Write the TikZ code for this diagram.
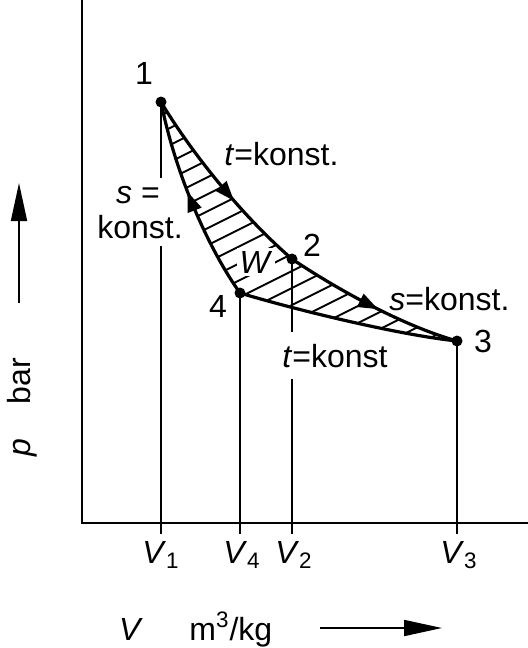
\documentclass[tikz,border=0pt]{standalone}
\usepackage{fontspec}
\setmainfont{Liberation Sans}
\usetikzlibrary{arrows.meta,positioning,calc,decorations.markings}

\begin{document}
\begin{tikzpicture}[x=0.5pt, y=-0.5pt,
  every node/.style={font=\fontsize{16}{19}\selectfont, inner sep=1pt},
  axis/.style={line width=1.3pt},
  curve/.style={line width=1.6pt, line join=round},
  guide/.style={line width=0.8pt},
  hatch/.style={line width=0.9pt},
  dot/.style={circle, fill, inner sep=0pt, minimum size=5.5pt},
  lbl/.style={fill=white},
  flow/.style={postaction={decorate}, decoration={markings, mark=at position #1 with {\arrow{Triangle[length=10pt,width=7pt]}}}},
  big/.style={-{Triangle[length=19pt,width=8pt]}, line width=0.9pt},
]
  \useasboundingbox (0,0) rectangle (528,648);

  % Axes
  \coordinate (O) at (82,523);
  \coordinate (Ytop) at (82,0);
  \coordinate (Xend) at (528,523);
  \draw[axis] (Ytop) -- (O) -- (Xend);

  % State points
  \coordinate (P1) at (161,102);
  \coordinate (P2) at (292,259);
  \coordinate (P3) at (457,341);
  \coordinate (P4) at (240,293);

  % Volume marks
  \coordinate (T1) at (161,534);
  \coordinate (T2) at (292,534);
  \coordinate (T3) at (457,534);
  \coordinate (T4) at (240,534);
  \draw[guide] (P1) -- (T1);
  \draw[guide] (P2) -- (T2);
  \draw[guide] (P3) -- (T3);
  \draw[guide] (P4) -- (T4);

  % Labels that cut the guides
  \node[lbl, anchor=base, inner ysep=4pt] (sk) at (138,203) {\textit{s} =};
  \node[lbl, anchor=base, inner ysep=4pt] (kk) at (140,238) {konst.};
  \node[lbl, anchor=base west, inner ysep=6pt] (tl) at (280,367) {\textit{t}=konst};

  % Hatched area
  \begin{scope}
    \clip (P1) .. controls (191,152) and (242,216) .. (P2)
      .. controls (332,286) and (400,325) .. (P3)
      .. controls (400,335) and (300,311) .. (P4)
      .. controls (210,251) and (176,177) .. (P1) -- cycle;
    \foreach \c in {196,213,...,560}
      \draw[hatch] (140,{\c-70}) -- (480,{\c-240});
  \end{scope}

  % Cycle
  \draw[curve, flow=0.6] (P1) .. controls (191,152) and (242,216) .. (P2);
  \draw[curve, flow=0.54] (P2) .. controls (332,286) and (400,325) .. (P3);
  \draw[curve] (P3) .. controls (400,335) and (300,311) .. (P4);
  \draw[curve, flow=0.55] (P4) .. controls (210,251) and (176,177) .. (P1);

  \foreach \p in {P1,P2,P3,P4}
    \node[dot] at (\p) {};

  \node[lbl, inner sep=1.5pt] (w) at (256,262) {\textit{W}};
  \node (n1) at (144,73) {1};
  \node (n2) at (312,245) {2};
  \node (n3) at (483,341) {3};
  \node (n4) at (218,306) {4};
  \node[anchor=base west] (tu) at (222,165) {\textit{t}=konst.};
  \node[anchor=base west] (sr) at (387,310) {\textit{s}=konst.};

  % V axis marks
  \node[anchor=base] (v1) at (161,563) {\textit{V}\textsubscript{1}};
  \node[anchor=base] (v4) at (242,563) {\textit{V}\textsubscript{4}};
  \node[anchor=base] (v2) at (294,563) {\textit{V}\textsubscript{2}};
  \node[anchor=base] (v3) at (459,563) {\textit{V}\textsubscript{3}};

  % Axis titles
  \node[anchor=base] (vq) at (131,640) {\textit{V}};
  \node[anchor=base west] (vu) at (187,640) {m\textsuperscript{3}/kg};
  \coordinate (A1) at (320,628);
  \coordinate (A2) at (442,628);
  \draw[big] (A1) -- (A2);

  \node[rotate=90, anchor=base] (pq) at (30,407) {\textit{p}\hspace{17pt}bar};
  \coordinate (B1) at (19,303);
  \coordinate (B2) at (19,183);
  \draw[big] (B1) -- (B2);
\end{tikzpicture}
\end{document}
